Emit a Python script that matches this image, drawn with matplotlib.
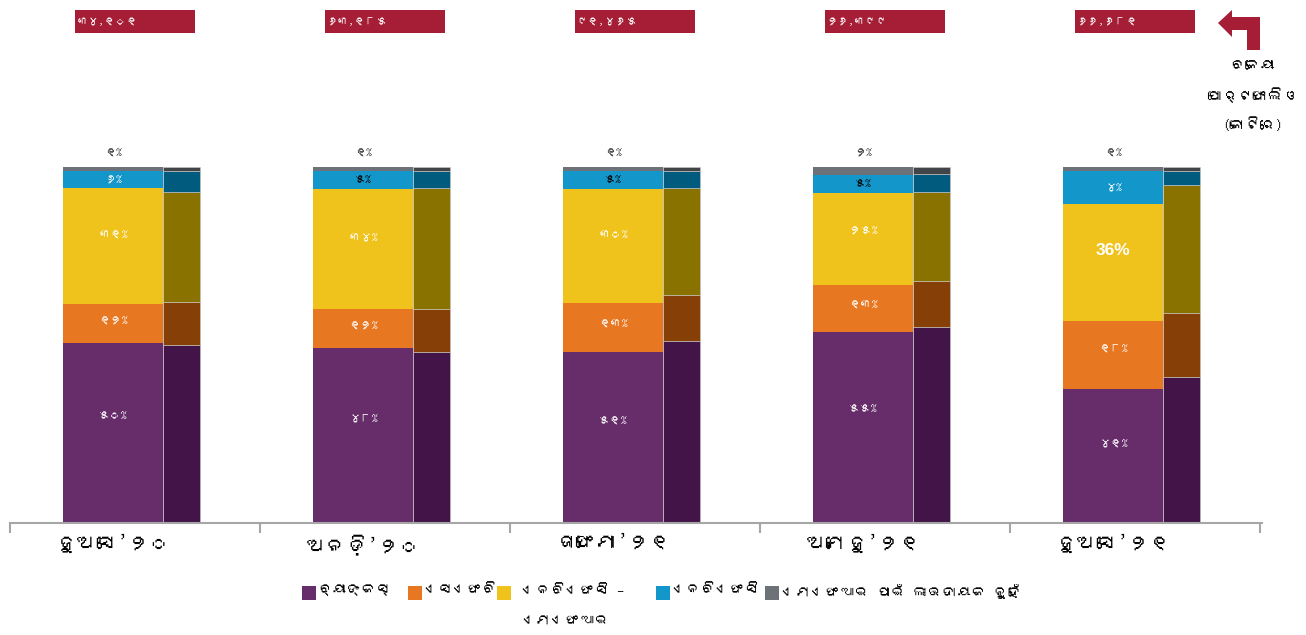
import matplotlib

matplotlib.use("Agg")
import matplotlib.pyplot as plt
import numpy as np
from matplotlib import font_manager
from matplotlib.ft2font import FT2Font
from matplotlib.patches import Polygon, Rectangle

# Quarters (Odia)
quarters = ["ଜୁଅସେ’୨୦", "ଅନଡ଼ି’୨୦", "ଜାଫେମା’୨୧", "ଅମେଜୁ’୨୧", "ଜୁଅସେ’୨୧"]
series = ["ବ୍ୟାଙ୍କସ୍", "ଏସଏଫବି", "ଏନବିଏଫସି –\nଏମଏଫଆଇ", "ଏନବିଏଫସି",
          "ଏମଏଫଆଇ ପାଇଁ ଲାଭଦାୟକ ନୁହେଁ"]
portfolio = ["୩୪,୧୦୧", "୬୩,୧୮୫", "୯୧,୪୬୫", "୨୬,୩୯୯", "୬୬,୬୮୧"]

# Share (%) of each lender type, bottom to top: banks, SFB, NBFC-MFI, NBFC, not-for-profit
banks = [50.5, 49.1, 48.0, 53.7, 37.6]
sfb = [11.0, 11.0, 13.8, 13.2, 19.1]
nbfc_mfi = [32.6, 33.7, 32.0, 25.8, 32.9]
nbfc = [4.8, 5.1, 5.1, 5.1, 9.3]
nfp = [1.1, 1.1, 1.1, 2.2, 1.1]

# Narrow darker companion bars (labelled shares)
banks_b = [50, 48, 51, 55, 41]
sfb_b = [12, 12, 13, 13, 18]
nbfc_mfi_b = [31, 34, 30, 25, 36]
nbfc_b = [6, 5, 5, 5, 4]
nfp_b = [1, 1, 1, 2, 1]

# Segment labels as printed
lab_banks = ["୫୦%", "୪୮%", "୫୧%", "୫୫%", "୪୧%"]
lab_sfb = ["୧୨%", "୧୨%", "୧୩%", "୧୩%", "୧୮%"]
lab_nbfc_mfi = ["୩୧%", "୩୪%", "୩୦%", "୨୫%", "36%"]
lab_nbfc = ["୬%", "୫%", "୫%", "୫%", "୪%"]
lab_nfp = ["୧%", "୧%", "୧%", "୨%", "୧%"]

colors = ["#662D6A", "#E87722", "#F0C21C", "#1396C9", "#6C7278"]
dark_colors = ["#431447", "#873F08", "#8A7200", "#005B7F", "#414548"]
box_red = "#A51E36"


def find_odia_font():
    for f in font_manager.fontManager.ttflist:
        try:
            if 0x0B13 in FT2Font(f.fname).get_charmap():
                return f.name
        except Exception:
            pass
    return None


odia = find_odia_font()
fam = ([odia] if odia else []) + ["Liberation Sans", "DejaVu Sans"]
plt.rcParams["font.family"] = fam

W, H = 1306, 635
fig = plt.figure(figsize=(W / 100, H / 100), dpi=100)


def px(x, y):
    return x / W, 1 - y / H


ax = fig.add_axes([10 / W, (H - 523) / H, 1252 / W, 356 / H])
x = np.arange(len(quarters))
main = [banks, sfb, nbfc_mfi, nbfc, nfp]
side = [banks_b, sfb_b, nbfc_mfi_b, nbfc_b, nfp_b]
labels = [lab_banks, lab_sfb, lab_nbfc_mfi, lab_nbfc, lab_nfp]

bottom = np.zeros(len(x))
bottom_b = np.zeros(len(x))
for k in range(5):
    vals = np.array(main[k], dtype=float)
    vals_b = np.array(side[k], dtype=float)
    ax.bar(x, vals, 0.4, bottom=bottom, color=colors[k], linewidth=0)
    ax.bar(x + 0.274, vals_b, 0.148, bottom=bottom_b, color=dark_colors[k],
           edgecolor="#c9c9c9", linewidth=0.4)
    for i in range(len(x)):
        txt = labels[k][i]
        if k == 4:
            ax.text(x[i], 104.2, txt, ha="center", va="center", fontsize=8.5,
                    color="#333333")
            continue
        ypos = bottom[i] + vals[i] * (0.5 if k == 3 else 0.6)
        color = "black" if (k == 3 and i in (1, 2, 3)) else "white"
        if txt == "36%":
            ax.text(x[i], ypos, txt, ha="center", va="center", fontsize=12.5,
                    color="white", fontweight="bold",
                    family=["Liberation Sans", "DejaVu Sans"])
        else:
            ax.text(x[i], ypos, txt, ha="center", va="center", fontsize=8.5,
                    color=color)
    bottom += vals
    bottom_b += vals_b

# portfolio boxes above each quarter
for i in range(len(x)):
    ax.add_patch(Rectangle((x[i] - 0.152, 137.6), 0.48, 6.5, color=box_red,
                           clip_on=False, linewidth=0))
    ax.text(x[i] - 0.145, 140.9, portfolio[i], ha="left", va="center",
            fontsize=8, color="white", fontweight="bold", clip_on=False)

ax.set_xlim(-0.412, 4.596)
ax.set_ylim(0, 100)
for s in ["top", "right", "left"]:
    ax.spines[s].set_visible(False)
ax.spines["bottom"].set_color("#A6A6A6")
ax.spines["bottom"].set_linewidth(1.5)
ax.set_yticks([])
ax.set_xticks(x)
ax.set_xticklabels(quarters, fontsize=15)
ax.tick_params(axis="x", which="major", length=0, pad=8)
ax.set_xticks(np.arange(len(x) + 1) - 0.412, minor=True)
ax.tick_params(axis="x", which="minor", length=7, width=1.5, color="#A6A6A6")

# arrow icon and unit note, top right
arrow = [(1218, 23), (1232, 10), (1232, 17), (1260, 17), (1260, 50),
         (1247, 50), (1247, 30), (1232, 30), (1232, 37)]
fig.add_artist(Polygon([px(a, b) for a, b in arrow], closed=True,
                       transform=fig.transFigure, color=box_red, lw=0))
fig.text(*px(1253, 96), "ବକେୟା\nପୋର୍ଟଫୋଲିଓ\n(କୋଟିରେ)", ha="center",
         va="center", fontsize=11, linespacing=2.1)

# legend
sq_x = [302, 408, 497, 656, 765]
tx_x = [318, 424, 522, 672, 782]
for k in range(5):
    fig.add_artist(Rectangle(px(sq_x[k], 600), 14 / W, 14 / H,
                             transform=fig.transFigure, color=colors[k], lw=0))
    fig.text(*px(tx_x[k], 584), series[k], ha="left", va="top",
             fontsize=10.5, linespacing=2.9)

fig.savefig("out.png", dpi=100)
